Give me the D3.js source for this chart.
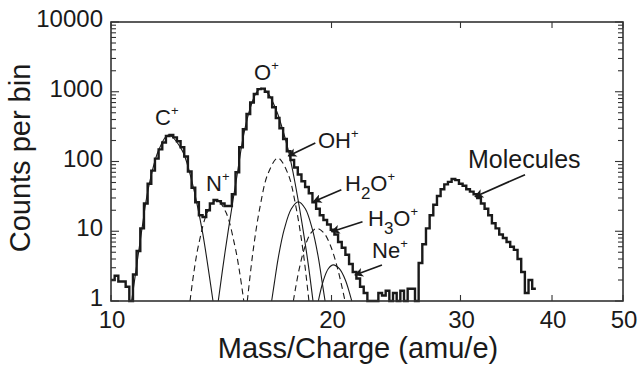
<!DOCTYPE html>
<html><head><meta charset="utf-8">
<script src="https://cdn.jsdelivr.net/npm/d3@7"></script>
<style>
body{margin:0;background:#fff}
svg{display:block}
text{font-family:"Liberation Sans",Arial,Helvetica,sans-serif;fill:#1a1a1a}
</style>
</head><body>
<svg id="chart" width="638" height="367"></svg>
<script>
// ---------- data ----------
const xTickValues = [10, 20, 30, 40, 50];
const yTickValues = [1, 10, 100, 1000, 10000];
const yTickLabels = ["1", "10", "100", "1000", "10000"];
const xTitle = "Mass/Charge (amu/e)";
const yTitle = "Counts per bin";

// histogram: logarithmic mass bins starting at 10 amu/e, 200 bins per decade
const binStart = 10;
const binsPerDecade = 200;
const counts = [
  2.0, 2.3, 1.9, 1.9, 1.6, 1, 2.4, 5.2, 11, 25,
  48, 74, 110, 149, 187, 232, 240, 222, 195, 160,
  118, 72, 42, 26, 17, 16, 20, 25, 28, 27,
  25, 23, 23, 34, 70, 160, 290, 480, 700, 930,
  1090, 1110, 1000, 830, 600, 420, 300, 210, 140, 105,
  82, 65, 52, 43, 35, 26, 21, 17, 14.5, 12.5,
  10.5, 9, 7, 5.8, 4.6, 3.4, 2.6, 2.1, 1.6, 1.3,
  1, 1, 1, 1.3, 1.2, 1.4, 1, 1.3, 1, 1.4,
  1, 1.5, 1.5, 1, 3.5, 6.5, 11, 17, 24, 32,
  40, 47, 51, 56, 54, 48, 45, 40, 37, 34,
  30, 25, 21, 17, 13, 11, 9, 8, 7, 6,
  5.4, 4, 2.6, 1.3, 2, 1.5
];

// fitted components: [mass, counts]
const compC   = [[10.67,1],[11.01,10],[11.24,40],[11.6,140],[11.97,240],[12.49,148],[12.82,66],[13.09,26],[13.35,9],[13.78,1]];
const compN   = [[12.82,1],[12.97,2.5],[13.17,6.4],[13.55,19],[13.94,28],[14.34,19],[14.75,6.4],[14.99,2.5],[15.18,1]];
const compO   = [[14.01,1],[14.31,5],[14.69,30],[14.85,60],[15.16,230],[15.48,570],[15.81,990],[16.06,1120],[16.4,930],[16.84,520],[17.1,320],[17.46,145],[17.83,50],[18.23,13],[18.58,3.5],[18.87,1]];
const compOH  = [[15.35,1],[15.63,5.2],[15.97,22],[16.38,67],[16.9,112],[17.44,67],[17.89,22],[18.29,5.2],[18.63,1]];
const compH2O = [[16.57,1],[16.71,1.8],[16.92,4.2],[17.24,10.7],[17.63,21],[18.02,26.5],[18.42,21],[18.83,10.7],[19.19,4.2],[19.43,1.8],[19.6,1]];
const compH3O = [[17.74,1],[18.04,2.65],[18.38,5.8],[18.73,9.3],[19.09,11],[19.52,9.5],[19.95,6.1],[20.39,2.9],[20.87,1]];
const compNe  = [[19.19,1],[19.49,1.95],[19.8,2.9],[20.11,3.3],[20.5,2.9],[20.89,2.0],[21.31,1]];

// arrow targets [mass, counts]
const arrowOH  = [17.46, 120];
const arrowH2O = [18.89, 26.5];
const arrowH3O = [20.0, 9.85];
const arrowNe  = [21.53, 2.36];
const arrowMol = [31.4, 31.3];

// ---------- layout ----------
const L = 111, R = 623, T = 22, B = 301;
const svg = d3.select("#chart");
const x = d3.scaleLog().domain([10, 50]).range([L, R]);
const y = d3.scaleLog().domain([1, 10000]).range([B, T]);
const ink = "#1a1a1a";

// histogram step line
const edge = i => binStart * Math.pow(10, i / binsPerDecade);
const stepPts = counts.map((c, i) => [edge(i), c]);
stepPts.push([edge(counts.length), counts[counts.length - 1]]);
const stepLine = d3.line().x(d => x(d[0])).y(d => y(d[1])).curve(d3.curveStepAfter);

// components
const compLine = d3.line().x(d => x(d[0])).y(d => y(d[1])).curve(d3.curveCatmullRom.alpha(0.5));
const comps = [
  {d: compC, dash: null}, {d: compN, dash: "6,4"}, {d: compO, dash: null},
  {d: compOH, dash: "6,4"}, {d: compH2O, dash: null}, {d: compH3O, dash: "6,4"},
  {d: compNe, dash: null}
];
svg.append("g").selectAll("path").data(comps).join("path")
  .attr("d", c => compLine(c.d)).attr("fill", "none").attr("stroke", ink)
  .attr("stroke-width", 1.1).attr("stroke-dasharray", c => c.dash);

svg.append("path").attr("d", stepLine(stepPts)).attr("fill", "none")
  .attr("stroke", ink).attr("stroke-width", 2.4).attr("stroke-linejoin", "miter");

// frame
svg.append("rect").attr("x", L).attr("y", T).attr("width", R - L).attr("height", B - T)
  .attr("fill", "none").attr("stroke", "#333").attr("stroke-width", 1.6);

// y ticks (both sides, inward)
const yMinor = [];
[1, 10, 100, 1000].forEach(dec => { for (let k = 2; k <= 9; k++) yMinor.push(dec * k); });
const gt = svg.append("g").attr("stroke", "#333").attr("stroke-width", 1.1);
yTickValues.forEach(v => {
  gt.append("line").attr("x1", L).attr("x2", L + 8).attr("y1", y(v)).attr("y2", y(v));
  gt.append("line").attr("x1", R).attr("x2", R - 8).attr("y1", y(v)).attr("y2", y(v));
});
yMinor.forEach(v => {
  gt.append("line").attr("x1", L).attr("x2", L + 5).attr("y1", y(v)).attr("y2", y(v));
  gt.append("line").attr("x1", R).attr("x2", R - 5).attr("y1", y(v)).attr("y2", y(v));
});
xTickValues.forEach(v => {
  gt.append("line").attr("x1", x(v)).attr("x2", x(v)).attr("y1", B).attr("y2", B - 6);
  gt.append("line").attr("x1", x(v)).attr("x2", x(v)).attr("y1", T).attr("y2", T + 6);
});

// tick labels
svg.append("g").selectAll("text").data(yTickValues).join("text")
  .attr("x", 103).attr("y", d => y(d) + 5).attr("text-anchor", "end")
  .attr("font-size", 24).text((d, i) => yTickLabels[i]);
svg.append("g").selectAll("text").data(xTickValues).join("text")
  .attr("x", d => x(d) + 1).attr("y", 328).attr("text-anchor", "middle")
  .attr("font-size", 24).text(d => d);

// axis titles
svg.append("text").attr("x", 358).attr("y", 358).attr("text-anchor", "middle")
  .attr("font-size", 29).text(xTitle);
svg.append("text").attr("transform", "translate(30,158) rotate(-90)")
  .attr("text-anchor", "middle").attr("font-size", 29).text(yTitle);

// annotations
function ion(px, py, parts, fs) {
  const t = svg.append("text").attr("x", px).attr("y", py).attr("font-size", fs || 22);
  parts.forEach(p => {
    const s = t.append("tspan").text(p.t);
    if (p.sup) s.attr("font-size", 13).attr("dy", -10);
    if (p.sub) s.attr("font-size", 17).attr("dy", 8);
    if (p.back) s.attr("dy", p.back);
  });
}
ion(155, 125, [{t: "C"}, {t: "+", sup: 1}]);
ion(206, 191, [{t: "N"}, {t: "+", sup: 1}]);
ion(254, 80, [{t: "O"}, {t: "+", sup: 1}]);
ion(318, 148, [{t: "OH"}, {t: "+", sup: 1}]);
ion(345, 191, [{t: "H"}, {t: "2", sub: 1}, {t: "O", back: -8}, {t: "+", sup: 1}]);
ion(368, 226, [{t: "H"}, {t: "3", sub: 1}, {t: "O", back: -8}, {t: "+", sup: 1}]);
ion(372, 258, [{t: "Ne"}, {t: "+", sup: 1}]);
svg.append("text").attr("x", 468).attr("y", 168).attr("font-size", 25).text("Molecules");

// arrows
svg.append("defs").append("marker").attr("id", "ah").attr("viewBox", "0 0 10 10")
  .attr("refX", 9).attr("refY", 5).attr("markerWidth", 13).attr("markerHeight", 9)
  .attr("markerUnits", "userSpaceOnUse").attr("orient", "auto")
  .append("path").attr("d", "M0,0 L10,5 L0,10 L2.5,5 z").attr("fill", ink);
const arrows = [
  {tip: arrowOH, dx: 27, dy: -13},
  {tip: arrowH2O, dx: 28, dy: -12},
  {tip: arrowH3O, dx: 31, dy: -10},
  {tip: arrowNe, dx: 27, dy: -10},
  {tip: arrowMol, dx: 50, dy: -22}
];
svg.append("g").selectAll("line").data(arrows).join("line")
  .attr("x1", a => x(a.tip[0]) + a.dx).attr("y1", a => y(a.tip[1]) + a.dy)
  .attr("x2", a => x(a.tip[0])).attr("y2", a => y(a.tip[1]))
  .attr("stroke", ink).attr("stroke-width", 1.7).attr("marker-end", "url(#ah)");
</script>
</body></html>
